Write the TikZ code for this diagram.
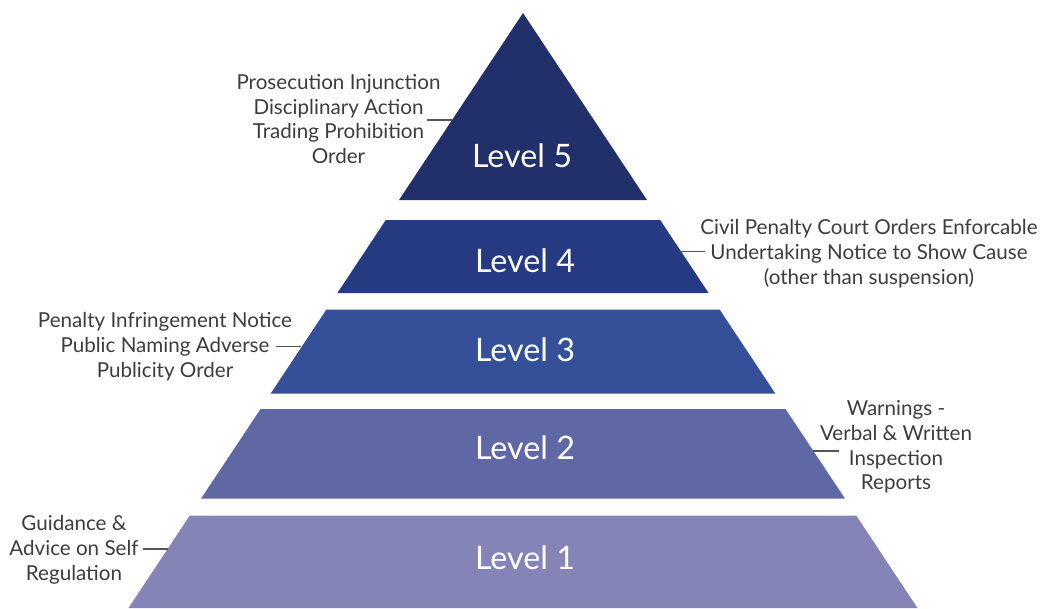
\documentclass[tikz,border=0pt]{standalone}
\usepackage{fontspec}
\setmainfont{Lato}
\definecolor{lvfive}{HTML}{212F6B}
\definecolor{lvfour}{HTML}{253A82}
\definecolor{lvthree}{HTML}{355099}
\definecolor{lvtwo}{HTML}{5F68A5}
\definecolor{lvone}{HTML}{8584B7}
\definecolor{notetext}{HTML}{3C3C3C}
\definecolor{leader}{HTML}{555555}
\begin{document}
\begin{tikzpicture}[x=1pt,y=-1pt,
  levellabel/.style={text=white,font=\fontsize{32.3}{36}\selectfont,inner sep=0pt},
  note/.style={text=notetext,font=\fontsize{20.6}{24.8}\selectfont,align=center,inner sep=0pt},
  leaderline/.style={draw=leader,line width=1.1pt}]
\useasboundingbox (0,0) rectangle (1059,608);

% pyramid bands, cut from one triangle with apex at (523,13)
\fill[lvfive]  (523,13) -- (647,200) -- (399,200) -- cycle;
\fill[lvfour]  (385.8,220) -- (660.2,220) -- (708.6,293) -- (337.4,293) -- cycle;
\fill[lvthree] (326.4,309.5) -- (719.6,309.5) -- (775.3,393.5) -- (270.7,393.5) -- cycle;
\fill[lvtwo]   (260.5,409) -- (785.5,409) -- (844.9,498.5) -- (201.1,498.5) -- cycle;
\fill[lvone]   (189.8,515.5) -- (856.2,515.5) -- (917.5,608) -- (128.5,608) -- cycle;

% level labels
\node[levellabel] (l5) at (522,156) {Level 5};
\node[levellabel] (l4) at (525,261) {Level 4};
\node[levellabel] (l3) at (525,350) {Level 3};
\node[levellabel] (l2) at (525,448) {Level 2};
\node[levellabel] (l1) at (525,558) {Level 1};

% measures taken at each level
\node[note] (n5) at (338.5,119) {Prosecution Injunction\\Disciplinary Action\\Trading Prohibition\\Order};
\node[note] (n4) at (869,253.5) {Civil Penalty Court Orders Enforcable\\Undertaking Notice to Show Cause\\(other than suspension)};
\node[note] (n3) at (165,346.5) {Penalty Infringement Notice\\Public Naming Adverse\\Publicity Order};
\node[note] (n2) at (896,447) {Warnings -\\Verbal \& Written\\Inspection\\Reports};
\node[note] (n1) at (74,550) {Guidance \&\\Advice on Self\\Regulation};

% leader lines from each note to the edge of its band
\coordinate (a5) at (427,120);   \coordinate (b5) at (452,120);
\coordinate (a4) at (705,251.5); \coordinate (b4) at (680,251.5);
\coordinate (a3) at (276,346.5); \coordinate (b3) at (301,346.5);
\coordinate (a2) at (839,451);   \coordinate (b2) at (813,451);
\coordinate (a1) at (143,549);   \coordinate (b1) at (168,549);
\foreach \i in {1,...,5} \draw[leaderline] (a\i) -- (b\i);
\end{tikzpicture}
\end{document}
